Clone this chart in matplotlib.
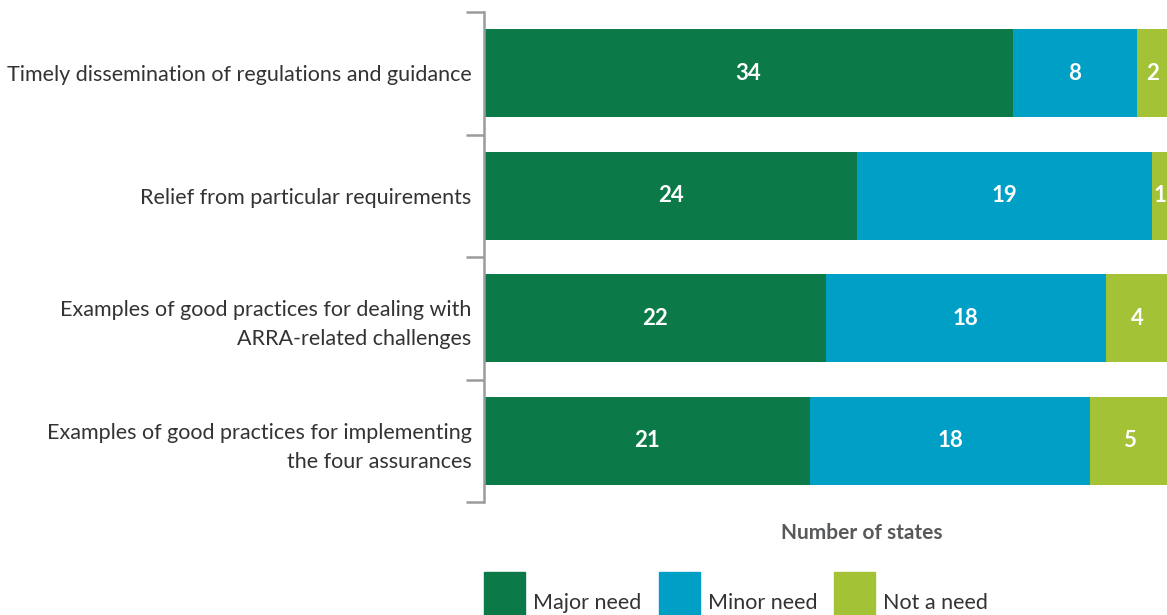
import numpy as np
import matplotlib
matplotlib.use('Agg')
import matplotlib.pyplot as plt
from matplotlib.patches import Rectangle

# data
categories = ["Timely dissemination of regulations and guidance",
              "Relief from particular requirements",
              "Examples of good practices for dealing with\nARRA-related challenges",
              "Examples of good practices for implementing\nthe four assurances"]
series_names = ["Major need", "Minor need", "Not a need"]
major = [34, 24, 22, 21]
minor = [8, 19, 18, 18]
not_need = [2, 1, 4, 5]
colors = ["#0B7A48", "#009FC6", "#A3C235"]

plt.rcParams['font.family'] = ['Lato', 'DejaVu Sans']
txt_col = '#333333'
grey = '#9B9B9E'

fig = plt.figure(figsize=(11.67, 6.15), dpi=100)
ax = fig.add_axes([484/1167, 1-502/615, 684/1167, 490/615])

y = np.arange(len(categories))
left = np.zeros(len(categories))
for vals, name, c in zip([major, minor, not_need], series_names, colors):
    vals = np.array(vals)
    bars = ax.barh(y, vals, left=left, height=0.72, color=c, label=name)
    for yi, l, v in zip(y, left, vals):
        ax.text(l + v/2, yi, str(v), ha='center', va='center', color='white',
                fontsize=16, fontweight='bold')
    left = left + vals

ax.set_xlim(0, 44)
ax.set_ylim(len(categories) - 0.5, -0.5)

# category labels at bar centres, group brackets as minor ticks
ax.set_yticks(y)
ax.set_yticklabels(categories, fontsize=15.5, color=txt_col, linespacing=1.55)
ax.set_yticks(np.arange(len(categories) + 1) - 0.5, minor=True)
ax.tick_params(axis='y', which='major', length=0, pad=9)
ax.tick_params(axis='y', which='minor', length=13, width=1.8, color=grey)
ax.xaxis.set_visible(False)
for s in ['top', 'right', 'bottom']:
    ax.spines[s].set_visible(False)
ax.spines['left'].set_color(grey)
ax.spines['left'].set_linewidth(1.8)

fig.text(862/1167, 1-533/615, "Number of states", ha='center', va='center',
         fontsize=15, fontweight='bold', color='#58595B')

# legend boxes along the bottom
for i, (name, c) in enumerate(zip(series_names, colors)):
    x0 = (484 + i*175) / 1167
    fig.add_artist(Rectangle((x0, 0), 41/1167, 43/615, transform=fig.transFigure,
                             color=c, clip_on=False))
    fig.text(x0 + 49/1167, 1-603/615, name, ha='left', va='center',
             fontsize=15.5, color=txt_col)

plt.savefig('out.png', dpi=100)
